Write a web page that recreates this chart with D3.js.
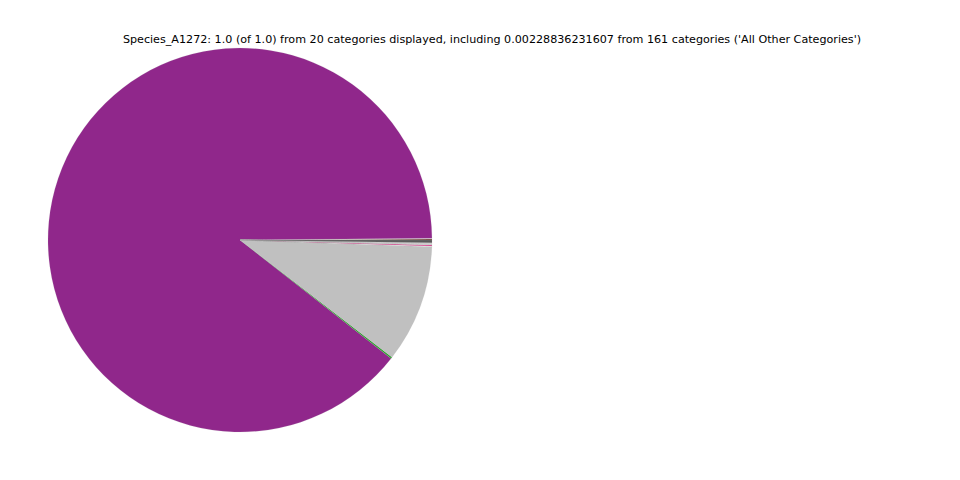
<!DOCTYPE html>
<html>
<head>
<meta charset="utf-8">
<script src="https://cdn.jsdelivr.net/npm/d3@7"></script>
<style>
  html, body { margin: 0; padding: 0; background: #ffffff; }
  svg { display: block; }
</style>
</head>
<body>
<svg id="chart" width="960" height="480"></svg>
<script>
// Categories in drawing order (counter-clockwise from 3 o'clock)
const categories = [
  "Cat_01", "Cat_02", "Cat_03", "Cat_04", "Cat_05",
  "Cat_06", "Cat_07", "Cat_08", "Cat_09", "Cat_10",
  "Cat_11", "Cat_12", "Cat_13", "Cat_14", "Cat_15",
  "Cat_16", "Cat_17", "Cat_18", "Cat_19", "All Other Categories"
];
const values = [
  0.00085, 0.00060, 0.89280, 0.00130, 0.09900,
  0.00030, 0.00025, 0.00080, 0.00020, 0.00018,
  0.00022, 0.00015, 0.00019, 0.00021, 0.00016,
  0.00017, 0.00014, 0.00013, 0.00012, 0.00228836231607
];
const colors = [
  "#6b3a2a", "#f2f2f2", "#90278b", "#2ca02c", "#c0c0c0",
  "#ffffff", "#f7f7f7", "#e7298a", "#fafafa", "#f0e8f0",
  "#ffffff", "#f5f5f5", "#fdfdfd", "#eeeeee", "#ffffff",
  "#f8f8f8", "#fefefe", "#f4f4f4", "#ffffff", "#5a5a5a"
];
const titleText = "Species_A1272: 1.0 (of 1.0) from 20 categories displayed, including 0.00228836231607 from 161 categories ('All Other Categories')";

const svg = d3.select("#chart");
const cx = 240, cy = 240, radius = 192;

const data = categories.map((c, i) => ({ name: c, value: values[i], color: colors[i] }));

const pie = d3.pie()
  .value(d => d.value)
  .sort(null)
  .startAngle(Math.PI / 2)
  .endAngle(Math.PI / 2 - 2 * Math.PI);

const arc = d3.arc().innerRadius(0).outerRadius(radius);

const g = svg.append("g").attr("transform", `translate(${cx},${cy})`);
g.selectAll("path")
  .data(pie(data))
  .join("path")
  .attr("d", arc)
  .attr("fill", d => d.data.color)
  .attr("stroke", "#b0b0b0")
  .attr("stroke-width", 0.15);

svg.append("text")
  .attr("x", 492)
  .attr("y", 43)
  .attr("text-anchor", "middle")
  .attr("font-family", "DejaVu Sans, sans-serif")
  .attr("font-size", 11.15)
  .attr("fill", "#000")
  .text(titleText);
</script>
</body>
</html>
